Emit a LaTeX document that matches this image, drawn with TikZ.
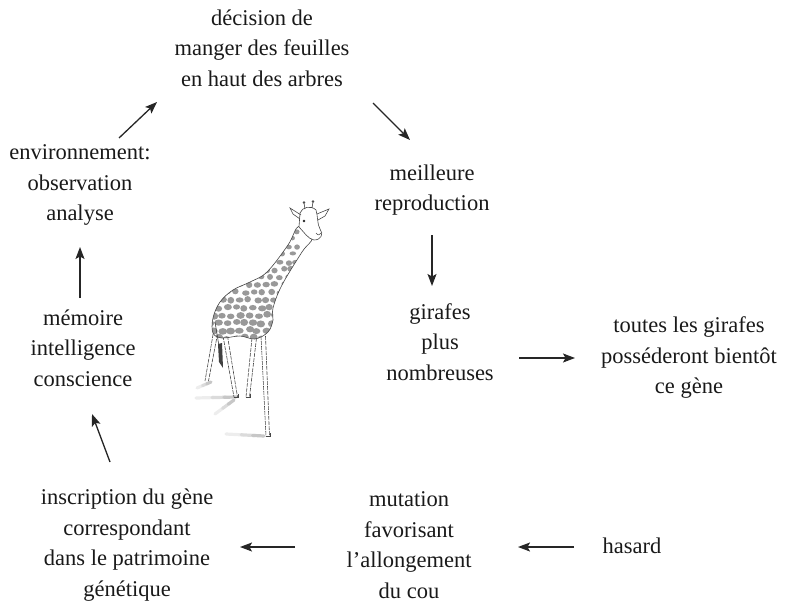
\documentclass[tikz,border=0pt]{standalone}
\usepackage{fontspec}
\setmainfont{Liberation Serif}
\usetikzlibrary{arrows.meta,calc}

\begin{document}
\begin{tikzpicture}[x=1pt,y=-1pt,
  lbl/.style={align=center, font=\fontsize{22.5}{30.5}\selectfont, inner sep=0pt, text=black!90},
  flow/.style={-{Stealth[length=12pt,width=9pt,inset=2.5pt]}, line width=1.3pt, draw=black!85},
  sketch/.style={draw=black!72, line width=0.6pt},
  spot/.style={fill=black!40},
  shade/.style={line width=3.2pt, line cap=round}]
\path[use as bounding box] (0,0) rectangle (786,604);

% ---- labels of the cycle ----
\node[lbl] (decision) at (262,48) {décision de\\manger des feuilles\\en haut des arbres};
\node[lbl] (meilleure) at (432,190) {meilleure\\reproduction};
\node[lbl] (girafes) at (440,342) {girafes\\plus\\nombreuses};
\node[lbl] (toutes) at (689,358) {toutes les girafes\\posséderont bientôt\\ce gène};
\node[lbl] (hasard) at (632,546) {hasard};
\node[lbl] (mutation) at (409,545) {mutation\\favorisant\\l’allongement\\du cou};
\node[lbl] (inscription) at (127,545) {inscription du gène\\correspondant\\dans le patrimoine\\génétique};
\node[lbl] (memoire) at (83,348) {mémoire\\intelligence\\conscience};
\node[lbl] (environ) at (80,185) {environnement:\\observation\\analyse};

% ---- arrow ends ----
\coordinate (e1a) at (119,138); \coordinate (e1b) at (157,102);
\coordinate (e2a) at (373,103); \coordinate (e2b) at (410,140);
\coordinate (e3a) at (432,235); \coordinate (e3b) at (432,286);
\coordinate (e4a) at (519,358); \coordinate (e4b) at (575,358);
\coordinate (e5a) at (574,547); \coordinate (e5b) at (518,547);
\coordinate (e6a) at (295,547); \coordinate (e6b) at (240,547);
\coordinate (e7a) at (110,462); \coordinate (e7b) at (92,414);
\coordinate (e8a) at (80,298);  \coordinate (e8b) at (80,247);

\draw[flow] (e1a) -- (e1b);
\draw[flow] (e2a) -- (e2b);
\draw[flow] (e3a) -- (e3b);
\draw[flow] (e4a) -- (e4b);
\draw[flow] (e5a) -- (e5b);
\draw[flow] (e6a) -- (e6b);
\draw[flow] (e7a) -- (e7b);
\draw[flow] (e8a) -- (e8b);

% ---- giraffe sketch ----
% soft ground shadows, darker near the hooves
\foreach \xa/\ya/\xb/\yb in {197/388/211/382, 196/398/236/397, 215/414/234/400, 226/434/264/436}{
  \draw[shade, draw=black!7]  (\xa,\ya) -- ($(\xa,\ya)!0.45!(\xb,\yb)$);
  \draw[shade, draw=black!14] ($(\xa,\ya)!0.4!(\xb,\yb)$) -- ($(\xa,\ya)!0.75!(\xb,\yb)$);
  \draw[shade, draw=black!22] ($(\xa,\ya)!0.7!(\xb,\yb)$) -- (\xb,\yb);
}

% legs
\foreach \a/\b/\c/\d in {214/329/205/381, 223/336/234/397, 252/338/246/397, 261/336/266/436}{
  \draw[sketch, dash pattern=on 4pt off 1pt] (\a,\b) -- (\c,\d);
  \draw[sketch, dash pattern=on 4pt off 1pt] (\a+4.5,\b) -- (\c+3.5,\d);
}
\foreach \c/\d in {234/397, 246/397, 266/436}{
  \draw[sketch] (\c-0.5,\d) -- ++(4.5,0) -- ++(0,-3);
}

% body and neck, with spots
\def\bodyshape{plot[smooth cycle, tension=0.6] coordinates {
  (299,226) (288,245) (267,272) (250,282) (233,290) (220,302) (213,318)
  (213,333) (222,338) (240,336) (255,339) (268,332) (273,320) (273,308)
  (282,285) (302,252) (312,238)}}
\fill[white] \bodyshape;
\begin{scope}
  \clip \bodyshape;
  \pgfmathsetseed{11}
  \foreach \r in {0,...,15}{
    \foreach \k in {0,...,10}{
      \pgfmathsetmacro\px{206+\k*8.6+mod(\r,2)*4.3+rand*1.4}
      \pgfmathsetmacro\py{224+\r*7.6+rand*1.2}
      \pgfmathsetmacro\sx{2.6+(\py-224)/115*1.6+rand*0.4}
      \pgfmathsetmacro\sy{2.1+(\py-224)/115*1.3+rand*0.4}
      \fill[spot] (\px,\py) ellipse [x radius=\sx, y radius=\sy];
    }
  }
\end{scope}
\draw[sketch] \bodyshape;

% tail with dark tuft
\draw[sketch] (215,322) -- (220,352);
\fill[black!75] (218,344) -- (222,343) -- (223,368) -- (219,362) -- cycle;

% head
\path[fill=white, sketch] (300,213) .. controls (302,207) and (311,205) .. (316,210)
  .. controls (318,216) and (317,224) .. (320,229)
  .. controls (324,234) and (321,240) .. (314,240)
  .. controls (308,239) and (304,232) .. (299,227) -- cycle;
% ossicones
\draw[sketch] (305,209) -- (304,203); \fill[black!70] (304,202.5) circle (1.3);
\draw[sketch] (312,208) -- (313,202); \fill[black!70] (313,201.5) circle (1.3);
% ears
\draw[sketch] (301,215) -- (290,208) -- (293,214) -- (300,219);
\draw[sketch] (317,214) -- (329,209) -- (325,216) -- (318,220);
% eye and nostril
\fill[black!85] (304,221) circle (1.4);
\draw[sketch, line width=0.5pt] (316,233) .. controls (318,236) and (320,235) .. (321,233);
\end{tikzpicture}
\end{document}
